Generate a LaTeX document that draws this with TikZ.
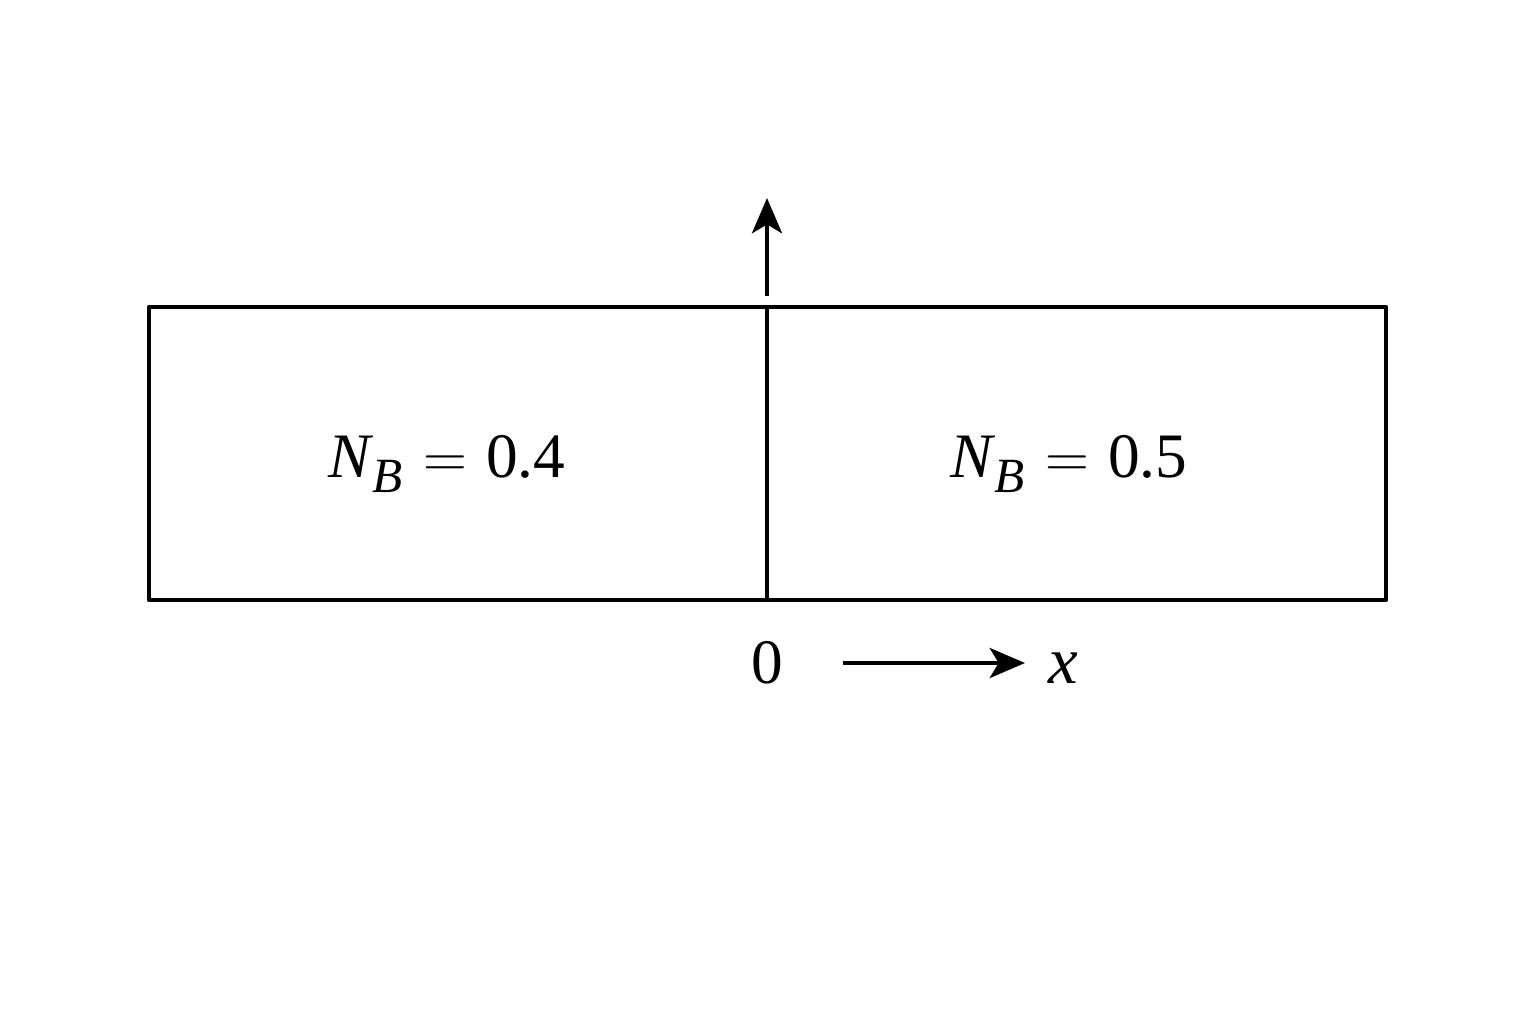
\documentclass[tikz,border=0pt]{standalone}
\usepackage{fontspec}
\setmainfont{Liberation Serif}
\usetikzlibrary{arrows.meta}
\newcommand{\nbsub}[1]{{\itshape N}\kern0.03em\raisebox{-0.24em}{\fontsize{14pt}{15pt}\selectfont\itshape #1}}
\newcommand{\eqsp}{\hspace{0.32em}$=$\hspace{0.3em}}
\tikzset{
  frame/.style={line width=1.35pt, line join=round},
  axis/.style={line width=1.35pt, -{Stealth[length=10pt,width=8.5pt,inset=2.5pt]}},
  lbl/.style={font=\fontsize{18pt}{20pt}\selectfont, inner sep=0pt}
}
\begin{document}
\begin{tikzpicture}[x=0.01cm,y=-0.01cm]
\useasboundingbox (0,0) rectangle (1536,1024);
% box
\coordinate (tl) at (149,307);
\coordinate (br) at (1386,600);
\coordinate (mt) at (767,307);
\coordinate (mb) at (767,600);
\draw[frame] (tl) rectangle (br);
\draw[frame] (mt) -- (mb);
% vertical arrow
\coordinate (vs) at (767,296);
\coordinate (ve) at (767,198);
\draw[axis] (vs) -- (ve);
% labels
\node[lbl] (left) at (447,464) {\nbsub{B}\eqsp 0.4};
\node[lbl] (right) at (1069,464) {\nbsub{B}\eqsp 0.5};
\node[lbl] (zero) at (767,663) {0};
\node[lbl, font=\fontsize{19pt}{20pt}\selectfont\itshape] (xl) at (1063,668) {x};
\coordinate (hs) at (843,663);
\coordinate (he) at (1025,663);
\draw[axis] (hs) -- (he);
\end{tikzpicture}
\end{document}
